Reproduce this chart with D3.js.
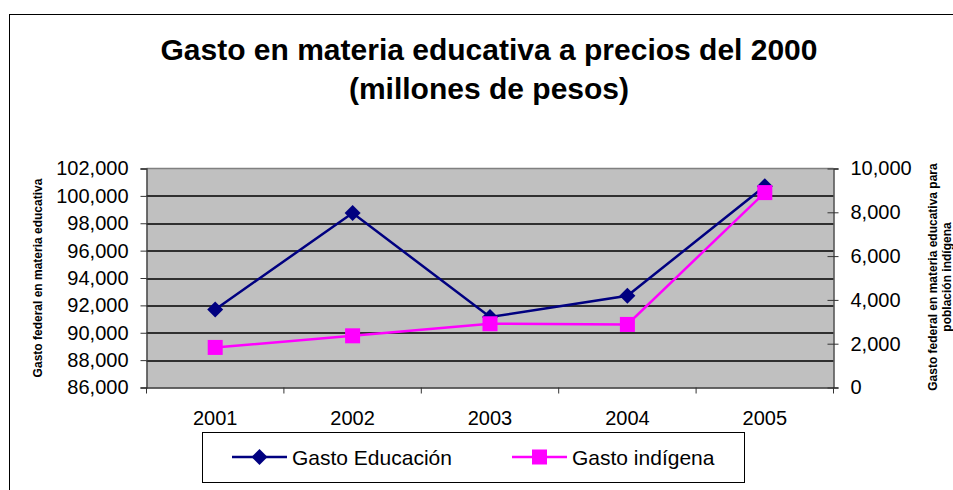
<!DOCTYPE html>
<html>
<head>
<meta charset="utf-8">
<script src="https://cdn.jsdelivr.net/npm/d3@7"></script>
<style>
  body { margin: 0; background: #fff; }
  text { font-family: Arial, "Liberation Sans", sans-serif; }
</style>
</head>
<body>
<div id="my_dataviz"></div>
<script>
// chart values
var years = ["2001", "2002", "2003", "2004", "2005"];
var gastoEducacion = [91700, 98750, 91150, 92700, 100700];
var gastoIndigena = [1830, 2360, 2910, 2880, 8900];
var leftTicks = [86000, 88000, 90000, 92000, 94000, 96000, 98000, 100000, 102000];
var rightTicks = [0, 2000, 4000, 6000, 8000, 10000];
var seriesNames = ["Gasto Educación", "Gasto indígena"];

var W = 953, H = 490;
var margin = {top: 168.5, right: 120, bottom: 102.5, left: 146.5},
    width = 833.5 - margin.left,
    height = 387.5 - margin.top;

var svg = d3.select("#my_dataviz")
  .append("svg")
    .attr("width", W)
    .attr("height", H);

svg.append("rect").attr("width", W).attr("height", H).attr("fill", "#fff");

// outer chart frame (runs off the right and bottom)
svg.append("rect")
  .attr("x", 9.5).attr("y", 14.5)
  .attr("width", 960).attr("height", 500)
  .attr("fill", "none").attr("stroke", "#000").attr("stroke-width", 1);

// title
var title = svg.append("text")
  .attr("text-anchor", "middle")
  .attr("font-size", 30)
  .attr("font-weight", "bold")
  .attr("fill", "#000");
title.append("tspan").attr("x", 489).attr("y", 60).text("Gasto en materia educativa a precios del 2000");
title.append("tspan").attr("x", 489).attr("y", 99).text("(millones de pesos)");

var g = svg.append("g")
  .attr("transform", "translate(" + margin.left + "," + margin.top + ")");

var x = d3.scaleBand().domain(years).range([0, width]).padding(0);
var yL = d3.scaleLinear().domain([86000, 102000]).range([height, 0]);
var yR = d3.scaleLinear().domain([0, 10000]).range([height, 0]);

// plot background
g.append("rect")
  .attr("width", width).attr("height", height)
  .attr("fill", "#C0C0C0");

// gridlines on the left axis
g.selectAll(".grid")
  .data(leftTicks.slice(1, -1))
  .enter().append("line")
    .attr("x1", 0).attr("x2", width)
    .attr("y1", function(d) { return Math.round(yL(d)) + 0.5; })
    .attr("y2", function(d) { return Math.round(yL(d)) + 0.5; })
    .attr("stroke", "#000").attr("stroke-width", 1.3);

// top border
g.append("line")
  .attr("x1", 0).attr("x2", width).attr("y1", 0).attr("y2", 0)
  .attr("stroke", "#808080").attr("stroke-width", 1.3);

// left axis
var axL = g.append("g")
  .call(d3.axisLeft(yL).tickValues(leftTicks).tickFormat(d3.format(",")).tickSize(6).tickPadding(12));
axL.select(".domain").attr("stroke", "#333").attr("stroke-width", 1.3);
axL.selectAll(".tick line").attr("stroke", "#333");
axL.selectAll(".tick text").attr("font-size", 20).attr("fill", "#000")
  .attr("font-family", "Arial, 'Liberation Sans', sans-serif");

// right axis
var axR = g.append("g")
  .attr("transform", "translate(" + width + ",0)")
  .call(d3.axisRight(yR).tickValues(rightTicks).tickFormat(d3.format(",")).tickSize(5).tickPadding(12));
axR.select(".domain").attr("stroke", "#333").attr("stroke-width", 1.3);
axR.selectAll(".tick line").attr("x1", -6).attr("stroke", "#333");
axR.selectAll(".tick text").attr("font-size", 20).attr("fill", "#000")
  .attr("font-family", "Arial, 'Liberation Sans', sans-serif");

// bottom axis, ticks on category edges
var axB = g.append("g")
  .attr("transform", "translate(0," + height + ")")
  .call(d3.axisBottom(x).tickSize(0).tickPadding(23));
axB.select(".domain").attr("stroke", "#333").attr("stroke-width", 1.3);
axB.selectAll(".tick text").attr("font-size", 20).attr("fill", "#000")
  .attr("font-family", "Arial, 'Liberation Sans', sans-serif");
axB.selectAll(".edge")
  .data(years.concat(["end"]))
  .enter().append("line")
    .attr("x1", function(d, i) { return i < years.length ? x(d) : width; })
    .attr("x2", function(d, i) { return i < years.length ? x(d) : width; })
    .attr("y1", 0).attr("y2", 6)
    .attr("stroke", "#333");

// axis titles
svg.append("text")
  .attr("transform", "translate(42,278) rotate(-90)")
  .attr("text-anchor", "middle")
  .attr("font-size", 12).attr("font-weight", "bold")
  .text("Gasto federal en materia educativa");
var rt = svg.append("text")
  .attr("transform", "translate(937,277) rotate(-90)")
  .attr("text-anchor", "middle")
  .attr("font-size", 12).attr("font-weight", "bold");
rt.append("tspan").attr("x", 0).attr("y", 0).text("Gasto federal en materia educativa para");
rt.append("tspan").attr("x", 0).attr("y", 14).text("población indígena");

// lines
var cx = function(d, i) { return x(years[i]) + x.bandwidth() / 2; };
var lineL = d3.line().x(cx).y(function(d) { return yL(d); });
var lineR = d3.line().x(cx).y(function(d) { return yR(d); });

g.append("path").datum(gastoEducacion)
  .attr("d", lineL).attr("fill", "none")
  .attr("stroke", "#000080").attr("stroke-width", 2.5);
g.append("path").datum(gastoIndigena)
  .attr("d", lineR).attr("fill", "none")
  .attr("stroke", "#FF00FF").attr("stroke-width", 2.5);

var diamond = "M0,-8L8,0L0,8L-8,0Z";
g.selectAll(".dm")
  .data(gastoEducacion)
  .enter().append("path")
    .attr("d", diamond)
    .attr("transform", function(d, i) { return "translate(" + cx(d, i) + "," + yL(d) + ")"; })
    .attr("fill", "#000080");
g.selectAll(".sq")
  .data(gastoIndigena)
  .enter().append("rect")
    .attr("x", function(d, i) { return cx(d, i) - 7.5; })
    .attr("y", function(d) { return yR(d) - 7.5; })
    .attr("width", 15).attr("height", 15)
    .attr("fill", "#FF00FF");

// legend
var leg = svg.append("g");
leg.append("rect")
  .attr("x", 202.5).attr("y", 432.5).attr("width", 542).attr("height", 50)
  .attr("fill", "#fff").attr("stroke", "#000").attr("stroke-width", 1);
var legItems = [
  {name: seriesNames[0], color: "#000080", x0: 232, shape: "diamond"},
  {name: seriesNames[1], color: "#FF00FF", x0: 512, shape: "square"}
];
legItems.forEach(function(it) {
  leg.append("line")
    .attr("x1", it.x0).attr("x2", it.x0 + 55).attr("y1", 457).attr("y2", 457)
    .attr("stroke", it.color).attr("stroke-width", 2.5);
  if (it.shape === "diamond") {
    leg.append("path").attr("d", diamond)
      .attr("transform", "translate(" + (it.x0 + 27.5) + ",457)")
      .attr("fill", it.color);
  } else {
    leg.append("rect")
      .attr("x", it.x0 + 20).attr("y", 449.5).attr("width", 15).attr("height", 15)
      .attr("fill", it.color);
  }
  leg.append("text")
    .attr("x", it.x0 + 60).attr("y", 464.5)
    .attr("font-size", 21).attr("fill", "#000")
    .text(it.name);
});
</script>
</body>
</html>
